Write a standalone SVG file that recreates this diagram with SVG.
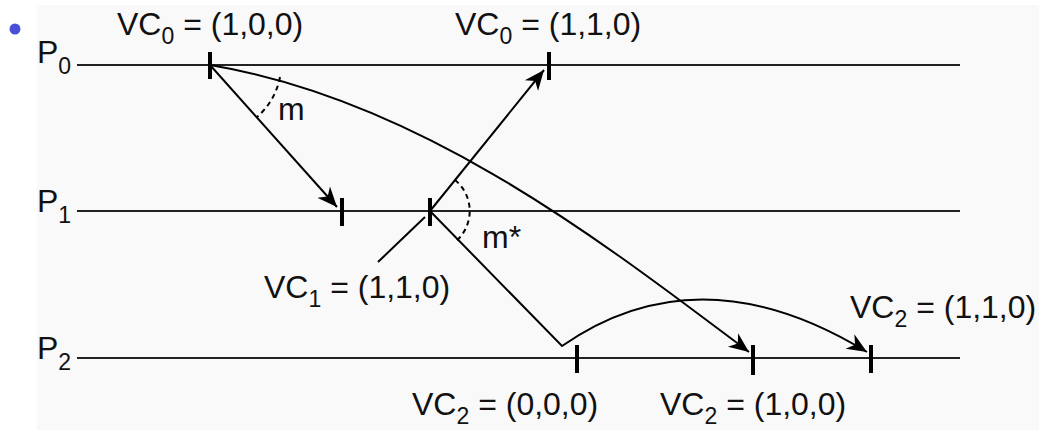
<svg xmlns="http://www.w3.org/2000/svg" width="1039" height="430" viewBox="0 0 1039 430">
<defs>
<style>
.t{font-family:"Liberation Sans",Arial,sans-serif;font-size:32px;fill:#111}
.s{font-size:23px}
.proc{stroke:#222;stroke-width:2;fill:none}
.tick{stroke:#000;stroke-width:4}
.msg{stroke:#000;stroke-width:2;fill:none}
.dash{stroke:#000;stroke-width:2;fill:none;stroke-dasharray:5,4}
</style>
<marker id="ah" markerUnits="userSpaceOnUse" markerWidth="24" markerHeight="20" viewBox="-20 -10 24 20" refX="0" refY="0" orient="auto">
<path d="M0,0 L-20,-8.5 L-14,0 L-20,8.5 Z" fill="#000"/>
</marker>
</defs>
<rect x="0" y="0" width="1039" height="430" fill="#fff"/>
<rect x="37" y="5" width="1002" height="425" fill="#f9f9f9"/>
<circle cx="15" cy="29" r="5.5" fill="#4a4fd8"/>

<g id="P0">
<line class="proc" x1="77" y1="65" x2="960" y2="65"/>
<text class="t" x="37" y="63">P<tspan class="s" dy="11">0</tspan></text>
</g>
<g id="P1">
<line class="proc" x1="77" y1="211" x2="960" y2="211"/>
<text class="t" x="37" y="212">P<tspan class="s" dy="11">1</tspan></text>
</g>
<g id="P2">
<line class="proc" x1="77" y1="358" x2="960" y2="358"/>
<text class="t" x="37" y="359">P<tspan class="s" dy="11">2</tspan></text>
</g>

<g id="e0a">
<line class="tick" x1="210" y1="52" x2="210" y2="79"/>
<text class="t" x="117" y="35">VC<tspan class="s" dy="9">0</tspan><tspan dy="-9"> = (1,0,0)</tspan></text>
</g>
<g id="e0b">
<line class="tick" x1="549" y1="52" x2="549" y2="80"/>
<text class="t" x="455" y="35">VC<tspan class="s" dy="9">0</tspan><tspan dy="-9"> = (1,1,0)</tspan></text>
</g>
<g id="e1a">
<line class="tick" x1="342" y1="198" x2="342" y2="226"/>
</g>
<g id="e1b">
<line class="tick" x1="430" y1="198" x2="430" y2="226"/>
<text class="t" x="264" y="298">VC<tspan class="s" dy="9">1</tspan><tspan dy="-9"> = (1,1,0)</tspan></text>
</g>
<g id="e2a">
<line class="tick" x1="577" y1="345" x2="577" y2="373"/>
<text class="t" x="412" y="415">VC<tspan class="s" dy="9">2</tspan><tspan dy="-9"> = (0,0,0)</tspan></text>
</g>
<g id="e2b">
<line class="tick" x1="753" y1="345" x2="753" y2="375"/>
<text class="t" x="660" y="415">VC<tspan class="s" dy="9">2</tspan><tspan dy="-9"> = (1,0,0)</tspan></text>
</g>
<g id="e2c">
<line class="tick" x1="871" y1="345" x2="871" y2="373"/>
<text class="t" x="850" y="318">VC<tspan class="s" dy="9">2</tspan><tspan dy="-9"> = (1,1,0)</tspan></text>
</g>

<g id="connectors">
<line class="msg" x1="210" y1="65" x2="337" y2="207" marker-end="url(#ah)"/>
<path class="msg" d="M210,65 C420,100 600,240 749,352" marker-end="url(#ah)"/>
<line class="msg" x1="430" y1="211" x2="544" y2="70" marker-end="url(#ah)"/>
<line class="msg" x1="378" y1="262" x2="425" y2="217"/>
<path class="msg" d="M430,211 L562,346 Q700,250 867,352" marker-end="url(#ah)"/>
<path class="dash" d="M280,77 A70,70 0 0 1 257,117"/>
<path class="dash" d="M455,180 A40,40 0 0 1 455,242"/>
<text class="t" x="278" y="120">m</text>
<text class="t" x="482" y="248">m*</text>
</g>
</svg>
